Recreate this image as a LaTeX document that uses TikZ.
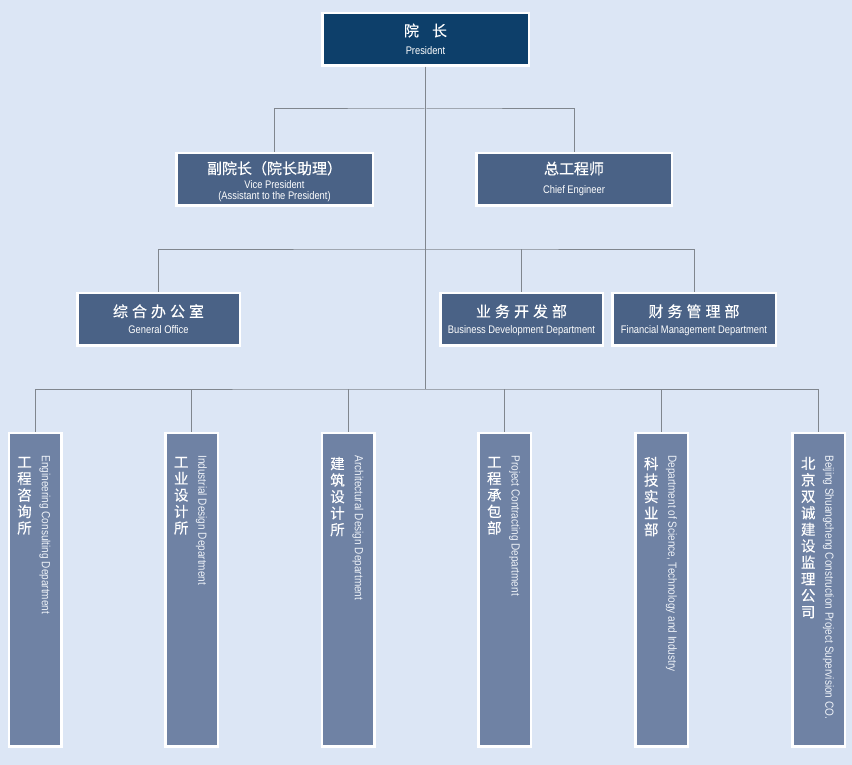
\documentclass[tikz,border=0pt]{standalone}
\usepackage{fontspec}
\setmainfont{Liberation Sans}[FakeStretch=0.85]
\newfontfamily\cjk{Noto Sans CJK SC}[FakeBold=0.3]
\usepackage{xcolor}
\usepackage{tikz}
\usetikzlibrary{
	calc,
	positioning
	}
\definecolor{fond}{HTML}{DCE6F5}
\definecolor{bleu-pres}{HTML}{0D3F6A}
\definecolor{bleu-std}{HTML}{4A6286}
\definecolor{bleu-col}{HTML}{6F82A4}
\definecolor{gris-ligne}{HTML}{80868E}
\definecolor{blanc-txt}{HTML}{EEF2F8}
\tikzstyle{boite}=[draw=white,line width=2.5pt,inner sep=0pt,rectangle]
\tikzstyle{boite-pres}=[boite,fill=bleu-pres,minimum width=206.5pt,minimum height=52.5pt]
\tikzstyle{boite-std}=[boite,fill=bleu-std,minimum height=52.5pt]
\tikzstyle{boite-col}=[boite,fill=bleu-col,minimum width=52.5pt,minimum height=313.5pt]
\tikzstyle{texte-cn}=[text=white,inner sep=0pt,text height=12pt,text depth=2pt,font=\cjk\fontsize{15}{17}\selectfont]
\tikzstyle{texte-en}=[text=white,inner sep=0pt,align=center,font=\fontsize{11}{11.5}\selectfont]
\tikzstyle{col-cn}=[text=white,inner sep=0pt,align=center,font=\cjk\fontsize{14.5}{16.5}\selectfont]
\tikzstyle{col-en}=[text=blanc-txt,inner sep=0pt,text height=9pt,text depth=2.5pt,anchor=west,rotate=-90,font=\fontsize{11.8}{12}\selectfont]
\tikzstyle{ligne}=[draw=gris-ligne,line width=1pt]
\newcommand{\ecart}{\hspace{4pt}}

\begin{document}
\begin{tikzpicture}[x=1pt,y=1pt]
\fill[fond] (0,0) rectangle (852,-765);
\useasboundingbox (0,0) rectangle (852,-765);

\node[boite-pres] (pres) at (425.5,-39.2) {};
\node[boite-std,minimum width=196.5pt] (vp) at (274.5,-179.2) {};
\node[boite-std,minimum width=195.5pt] (ce) at (574,-179.2) {};
\node[boite-std,minimum width=162.5pt] (go) at (158.5,-319.2) {};
\node[boite-std,minimum width=162.5pt] (bd) at (521.5,-319.2) {};
\node[boite-std,minimum width=163.5pt] (fm) at (694,-319.2) {};

\node[boite-col] (dep1) at (35,-589.7) {};
\node[boite-col] (dep2) at (191.7,-589.7) {};
\node[boite-col] (dep3) at (348,-589.7) {};
\node[boite-col] (dep4) at (504.8,-589.7) {};
\node[boite-col] (dep5) at (661.7,-589.7) {};
\node[boite-col] (dep6) at (818.7,-589.7) {};

\coordinate (b1) at (425.5,-109);
\coordinate (b2) at (425.5,-249);
\coordinate (b3) at (425.5,-389);

\draw[ligne] (pres.south) -- (b3);
\draw[ligne] (vp.north) |- (b1) -| (ce.north);
\draw[ligne] (go.north) |- (b2) -| (fm.north);
\draw[ligne] (bd.north) -- (bd.north |- b2);
\draw[ligne] (dep1.north) |- (b3) -| (dep6.north);
\draw[ligne] (dep2.north) -- (dep2.north |- b3);
\draw[ligne] (dep3.north) -- (dep3.north |- b3);
\draw[ligne] (dep4.north) -- (dep4.north |- b3);
\draw[ligne] (dep5.north) -- (dep5.north |- b3);

\node[texte-cn,above=0.7pt] at (pres) {院\hspace{13pt}长};
\node[texte-en,below=7.5pt] at (pres) {President};
\node[texte-cn,above=3pt] at (vp) {副院长（院长助理）};
\node[texte-en,below=1pt] at (vp) {Vice President\\(Assistant to the President)};
\node[texte-cn,above=2.7pt] at (ce) {总工程师};
\node[texte-en,below=6pt] at (ce) {Chief Engineer};
\node[texte-cn,above=0pt] at (go) {综\ecart 合\ecart 办\ecart 公\ecart 室};
\node[texte-en,below=6pt] at (go) {General Office};
\node[texte-cn,above=0pt] at (bd) {业\ecart 务\ecart 开\ecart 发\ecart 部};
\node[texte-en,below=6pt] at (bd) {Business Development Department};
\node[texte-cn,above=0pt] at (fm) {财\ecart 务\ecart 管\ecart 理\ecart 部};
\node[texte-en,below=6pt] at (fm) {Financial Management Department};

\node[col-cn,below=25pt] at ([xshift=-10.5pt]dep1.north) {工\\程\\咨\\询\\所};
\node[col-cn,below=25pt] at ([xshift=-10.5pt]dep2.north) {工\\业\\设\\计\\所};
\node[col-cn,below=25pt] at ([xshift=-10.5pt]dep3.north) {建\\筑\\设\\计\\所};
\node[col-cn,below=25pt] at ([xshift=-10.5pt]dep4.north) {工\\程\\承\\包\\部};
\node[col-cn,below=25pt] at ([xshift=-10.5pt]dep5.north) {科\\技\\实\\业\\部};
\node[col-cn,below=25pt] at ([xshift=-10.5pt]dep6.north) {北\\京\\双\\诚\\建\\设\\监\\理\\公\\司};

\node[col-en] at ([xshift=10pt,yshift=-23.5pt]dep1.north) {Engineering Consulting Department};
\node[col-en] at ([xshift=10pt,yshift=-23.5pt]dep2.north) {Industrial Design Department};
\node[col-en] at ([xshift=10pt,yshift=-23.5pt]dep3.north) {Architectural Design Department};
\node[col-en] at ([xshift=10pt,yshift=-23.5pt]dep4.north) {Project Contracting Department};
\node[col-en] at ([xshift=10pt,yshift=-23.5pt]dep5.north) {Department of Science, Technology and Industry};
\node[col-en] at ([xshift=10pt,yshift=-23.5pt]dep6.north) {Beijing Shuangcheng Construction Project Supervision CO.};
\end{tikzpicture}
\end{document}
